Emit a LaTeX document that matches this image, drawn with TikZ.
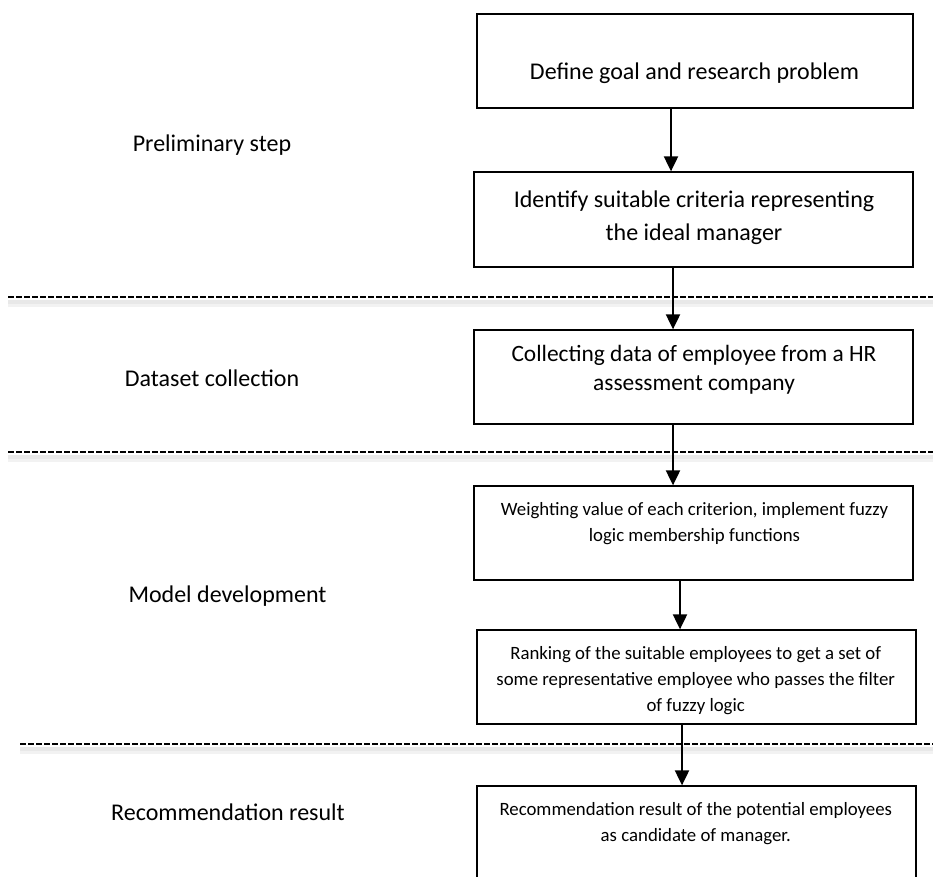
\documentclass[tikz,border=0pt]{standalone}
\usepackage{fontspec}
\setmainfont{Carlito}
\usetikzlibrary{arrows.meta}
\begin{document}
\begin{tikzpicture}[x=1pt,y=-1pt,
  box/.style={draw=black, line width=1.3pt, inner sep=0pt},
  txt/.style={align=center, inner sep=0pt, anchor=base},
  flow/.style={-{Triangle[length=15pt,width=14pt]}, line width=2pt},
  sep/.style={dashed, dash pattern=on 5.5pt off 2.5pt, line width=2pt},
  sepshadow/.style={line width=5pt, black!9},
  big/.style={font=\fontsize{24}{33}\selectfont},
  mid/.style={font=\fontsize{23.4}{29.5}\selectfont},
  small/.style={font=\fontsize{18.8}{26}\selectfont}]
\useasboundingbox (0,0) rectangle (933,876);
\begin{scope}
\clip (0,0) rectangle (933,876);
% boxes
\node[box, minimum width=436pt, minimum height=94pt] (b1) at (695,61) {};
\node[box, minimum width=439pt, minimum height=95pt] (b2) at (693.5,219.5) {};
\node[box, minimum width=439pt, minimum height=94pt] (b3) at (693.5,377) {};
\node[box, minimum width=439pt, minimum height=94pt] (b4) at (693.5,533) {};
\node[box, minimum width=439pt, minimum height=94pt] (b5) at (696.5,677) {};
\node[box, minimum width=439pt, minimum height=120pt] (b6) at (696.5,846) {};
% separators with shadow
\coordinate (s1l) at (8,297);   \coordinate (s1r) at (933,297);
\coordinate (s2l) at (8,452);   \coordinate (s2r) at (933,452);
\coordinate (s3l) at (20,744);  \coordinate (s3r) at (933,744);
\foreach \a/\b in {s1l/s1r, s2l/s2r, s3l/s3r}{
  \draw[sepshadow] ([yshift=-5pt]\a) -- ([yshift=-5pt]\b);
  \draw[line width=3pt, black!5] ([yshift=-8pt]\a) -- ([yshift=-8pt]\b);
}
\draw[sep] (s1l) -- (s1r);
\draw[sep] (s2l) -- (s2r);
\draw[sep] (s3l) -- (s3r);
% arrows
\draw[flow] (b1.south -| 671,0) -- (b2.north -| 671,0);
\draw[flow] (b2.south -| 673,0) -- (b3.north -| 673,0);
\draw[flow] (b3.south -| 673,0) -- (b4.north -| 673,0);
\draw[flow] (b4.south -| 680,0) -- (b5.north -| 680,0);
\draw[flow] (b5.south -| 682,0) -- (b6.north -| 682,0);
% box texts (base anchor = baseline of last line)
\node[txt, big] (t1) at (694.5,79) {Define goal and research problem};
\node[txt, big] (t2) at (694,240) {Identify suitable criteria representing\\the ideal manager};
\node[txt, mid] (t3) at (694,390.5) {Collecting data of employee from a HR\\assessment company};
\node[txt, small] (t4) at (694.5,541.7) {Weighting value of each criterion, implement fuzzy\\logic membership functions};
\node[txt, small] (t5) at (695.7,711.7) {Ranking of the suitable employees to get a set of\\some representative employee who passes the filter\\of fuzzy logic};
\node[txt, small] (t6) at (695.8,841.7) {Recommendation result of the potential employees\\as candidate of manager.};
% stage labels
\node[txt, big] (l1) at (212,151.7) {Preliminary step};
\node[txt, big] (l2) at (212,386) {Dataset collection};
\node[txt, big] (l3) at (227.5,602.7) {Model development};
\node[txt, big] (l4) at (228,820) {Recommendation result};
\end{scope}
\end{tikzpicture}
\end{document}
